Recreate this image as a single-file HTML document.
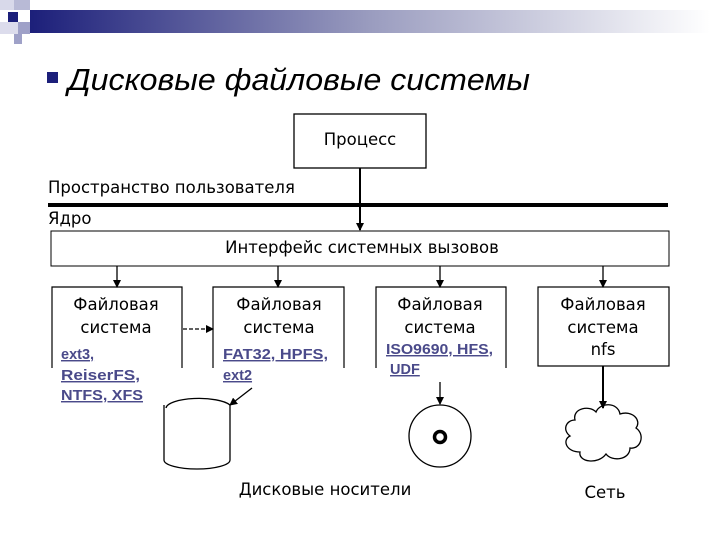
<!DOCTYPE html>
<html><head><meta charset="utf-8"><style>body{margin:0;background:#fff}</style></head><body>
<svg width="720" height="540" xmlns="http://www.w3.org/2000/svg" style="display:block">
<defs>
<linearGradient id="g" x1="0" x2="1"><stop offset="0" stop-color="#1c1f7a"/><stop offset="0.5" stop-color="#9a9cbf"/><stop offset="1" stop-color="#fff"/></linearGradient>
<marker id="a" markerWidth="8" markerHeight="8" refX="7" refY="4" orient="auto" markerUnits="userSpaceOnUse"><path d="M0,0 L8,4 L0,8 z" fill="#000"/></marker>
</defs>
<rect x="30" y="10" width="680" height="23" fill="url(#g)"/>
<rect x="0" y="0" width="30" height="10" fill="#d8d9ea"/>
<rect x="14" y="0" width="16" height="10" fill="#b8bad6"/>
<rect x="8" y="12" width="10" height="10" fill="#1c1f7a"/>
<rect x="0" y="22" width="30" height="12" fill="#dcdcec"/>
<rect x="18" y="22" width="12" height="12" fill="#9fa1c8"/>
<rect x="14" y="34" width="8" height="10" fill="#9fa1c8"/>
<rect x="47" y="72" width="11" height="11" fill="#1c1f7a"/>
<text x="68" y="90" font-family="Liberation Sans, sans-serif" font-style="italic" font-size="31" textLength="462" lengthAdjust="spacingAndGlyphs" fill="#000">Дисковые файловые системы</text>
<g font-family="DejaVu Sans, sans-serif" fill="#000" stroke="none">
<rect x="294" y="114" width="132" height="54" fill="#fff" stroke="#000" stroke-width="1.3"/>
<text x="360" y="145" font-size="16.5" text-anchor="middle">Процесс</text>
<line x1="360" y1="168" x2="360" y2="230" stroke="#000" stroke-width="2" marker-end="url(#a)"/>
<text x="48" y="193" font-size="16.5">Пространство пользователя</text>
<line x1="48" y1="205" x2="668" y2="205" stroke="#000" stroke-width="4"/>
<text x="48" y="224" font-size="16.5">Ядро</text>
<rect x="51" y="231" width="618" height="35" fill="#fff" stroke="#000" stroke-width="1"/>
<text x="362" y="253" font-size="16.5" text-anchor="middle">Интерфейс системных вызовов</text>
<g stroke="#000" stroke-width="1.3">
<line x1="117" y1="266" x2="117" y2="287" marker-end="url(#a)"/>
<line x1="278" y1="266" x2="278" y2="287" marker-end="url(#a)"/>
<line x1="440" y1="266" x2="440" y2="287" marker-end="url(#a)"/>
<line x1="603" y1="266" x2="603" y2="287" marker-end="url(#a)"/>
</g>
<g fill="none" stroke="#000" stroke-width="1.2">
<path d="M52,368 V287 H182 V368"/>
<path d="M213,368 V287 H344 V368"/>
<path d="M376,368 V287 H506 V368"/>
<rect x="538" y="287" width="131" height="79"/>
</g>
<g font-size="16.5" text-anchor="middle">
<text x="116" y="310">Файловая</text><text x="116" y="333">система</text>
<text x="279" y="310">Файловая</text><text x="279" y="333">система</text>
<text x="440" y="310">Файловая</text><text x="440" y="333">система</text>
<text x="603" y="310">Файловая</text><text x="603" y="333">система</text>
<text x="603" y="355">nfs</text>
</g>
<g font-family="Liberation Sans, sans-serif" font-weight="bold" font-size="14.5" fill="#4a4a8a" text-decoration="underline">
<text x="61" y="359">ext3,</text><text x="61" y="380" textLength="79" lengthAdjust="spacingAndGlyphs">ReiserFS,</text><text x="61" y="400" textLength="82" lengthAdjust="spacingAndGlyphs">NTFS, XFS</text>
<text x="223" y="359" textLength="105" lengthAdjust="spacingAndGlyphs">FAT32, HPFS,</text><text x="223" y="380">ext2</text>
<text x="386" y="354" textLength="107" lengthAdjust="spacingAndGlyphs">ISO9690, HFS,</text><text x="390" y="374">UDF</text>
</g>
<line x1="183" y1="329" x2="213" y2="329" stroke="#000" stroke-width="1.3" stroke-dasharray="4,2" marker-end="url(#a)"/>
<line x1="252" y1="388" x2="230" y2="405" stroke="#000" stroke-width="1.3" marker-end="url(#a)"/>
<g fill="none" stroke="#000" stroke-width="1.3">
<path d="M164,405 V460 A33,9 0 0 0 230,460 V405"/>
<path d="M166,408 A33,10 0 0 1 230,405"/>
<circle cx="440" cy="436" r="31"/>
<circle cx="440" cy="437" r="5.5" stroke-width="3.5"/>
<path d="M575,420 C572,408 590,405 596,412 C600,402 618,402 620,414 C632,410 642,420 636,428 C646,435 640,450 630,448 C630,460 612,462 606,454 C598,465 578,462 580,452 C566,452 562,440 570,436 C562,430 566,420 575,420 z"/>
</g>
<line x1="440" y1="382" x2="440" y2="404" stroke="#000" stroke-width="1.3" marker-end="url(#a)"/>
<line x1="603" y1="366" x2="603" y2="408" stroke="#000" stroke-width="2" marker-end="url(#a)"/>
<text x="325" y="495" font-size="16.5" text-anchor="middle">Дисковые носители</text>
<text x="605" y="498" font-size="16.5" text-anchor="middle">Сеть</text>
</g>
</svg>
</body></html>
